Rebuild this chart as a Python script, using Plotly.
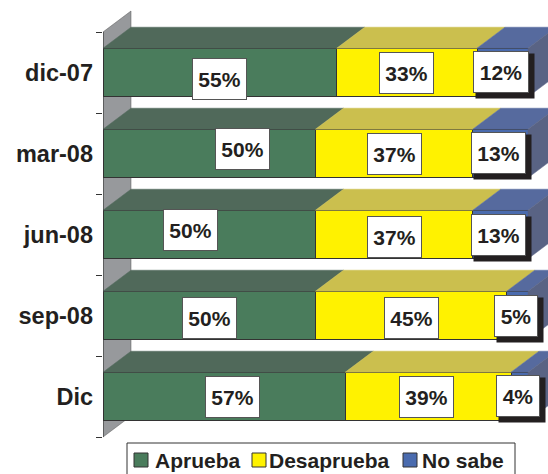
import plotly.graph_objects as go

categories = ["dic-07", "mar-08", "jun-08", "sep-08", "Dic"]
aprueba = [55, 50, 50, 50, 57]
desaprueba = [33, 37, 37, 45, 39]
no_sabe = [12, 13, 13, 5, 4]

series = [("Aprueba", aprueba), ("Desaprueba", desaprueba), ("No sabe", no_sabe)]
front = ["#4A7C5C", "#FFF200", "#4A6BAE"]
top = ["#50695A", "#CBBF4E", "#566A9E"]
side = "#596384"
edge = "#333333"
wall = "#97999C"
ink = "#231F20"

# label offsets from segment centre, pixels (dx right, dy down)
dx = [[0, 0, -2], [33, 0, -2], [-19, 0, -2], [0, 0, -1], [8, -2, -2]]
dy = [[6, 0, -1], [-5, 0, -1], [-5, 2, 0], [2, 2, 0], [0, 0, -1]]
label_w = [[53, 53, 54], [53, 53, 53], [53, 53, 53], [53, 53, 42], [53, 53, 42]]

W, H = 548, 474
L = 103
px_x = 4.25
px_y = 81.0
y0_px = 72.5
depth_x = 28 / px_x
depth_y = 21 / px_y
half = 0.3

x_rng = [0, (W - L) / px_x]
y_rng = [(H - y0_px) / px_y, -y0_px / px_y]

fig = go.Figure()

for (name, vals), c in zip(series, front):
    fig.add_bar(y=list(range(5)), x=vals, name=name, orientation="h", width=half * 2,
                showlegend=False,
                marker=dict(color=c, line=dict(color=edge, width=1)))

def poly(xs, ys, color):
    fig.add_scatter(x=xs, y=ys, fill="toself", fillcolor=color, mode="lines",
                    line=dict(color=color, width=0.5), showlegend=False, hoverinfo="skip")

annotations = []
for i in range(5):
    base = 0
    yt = i - half
    for s, (name, vals) in enumerate(series):
        v = vals[i]
        poly([base, base + v, base + v + depth_x, base + depth_x, base],
             [yt, yt, yt - depth_y, yt - depth_y, yt], top[s])
        if s == 2:
            e = base + v
            poly([e, e + depth_x, e + depth_x, e, e],
                 [yt, yt - depth_y, yt + 2 * half - depth_y, yt + 2 * half, yt], side)
            annotations.append(dict(x=base + v / 2, y=i, text=" ", showarrow=False,
                                    xshift=dx[i][s] + 4, yshift=-(dy[i][s] + 4),
                                    width=label_w[i][s] + 2, height=42, bgcolor=ink))
        annotations.append(dict(x=base + v / 2, y=i, text=f"{v}%", showarrow=False,
                                xshift=dx[i][s], yshift=-dy[i][s],
                                width=label_w[i][s], height=40, bgcolor="white",
                                bordercolor="#555555", borderwidth=1, borderpad=0,
                                font=dict(family="Liberation Sans", size=21, color=ink, weight="bold")))
        base += v

# axis line as data-space trace
fig.add_scatter(x=[0, 0], y=[-0.5, 4.5], mode="lines", line=dict(color=edge, width=1),
                showlegend=False, hoverinfo="skip")

wall_path = (f"M 0 -0.5 L {depth_x} {-0.5 - depth_y} L {depth_x} {4.5 - depth_y} L 0 4.5 Z")
fig.add_shape(type="path", path=wall_path, xref="x", yref="y", layer="below",
              fillcolor=wall, line=dict(color="#555555", width=0.5))

# legend box
def fx(p):
    return (p - L) / (W - L)

def fy(p):
    return 1 - p / H

fig.add_shape(type="rect", xref="paper", yref="paper", x0=fx(127), x1=fx(515), y0=fy(480), y1=fy(443),
              fillcolor="white", line=dict(color=edge, width=1))
swatch_x = [134, 252, 403]
text_x = [155, 269, 422]
for (name, _), c, sx, tx in zip(series, front, swatch_x, text_x):
    fig.add_shape(type="rect", xref="paper", yref="paper", x0=fx(sx), x1=fx(sx + 14), y0=fy(467), y1=fy(453),
                  fillcolor=c, line=dict(color=edge, width=1))
    annotations.append(dict(xref="paper", yref="paper", x=fx(tx), y=fy(460), xanchor="left", yanchor="middle",
                            text=name, showarrow=False, xshift=-2,
                            font=dict(family="Liberation Sans", size=21, color=ink, weight="bold")))

fig.update_layout(
    width=W, height=H, barmode="stack", plot_bgcolor="white", paper_bgcolor="white",
    margin=dict(l=L, r=0, t=0, b=0, pad=0),
    xaxis=dict(range=x_rng, visible=False, fixedrange=True),
    yaxis=dict(range=y_rng, tickmode="array", tickvals=list(range(5)), ticktext=categories,
               showgrid=False, zeroline=False, ticks="", showline=False, ticklabelstandoff=9,
               tickfont=dict(family="Liberation Sans", size=23.5, color=ink, weight="bold"),
               minor=dict(tickmode="array", tickvals=[-0.5, 0.5, 1.5, 2.5, 3.5, 4.5],
                          ticks="outside", ticklen=6, tickcolor=edge, showgrid=False)),
    annotations=annotations,
    showlegend=False,
)

fig.write_html("out.html", config=dict(displayModeBar=False),
               post_script="document.body.style.margin='0';document.body.style.overflow='hidden';")
